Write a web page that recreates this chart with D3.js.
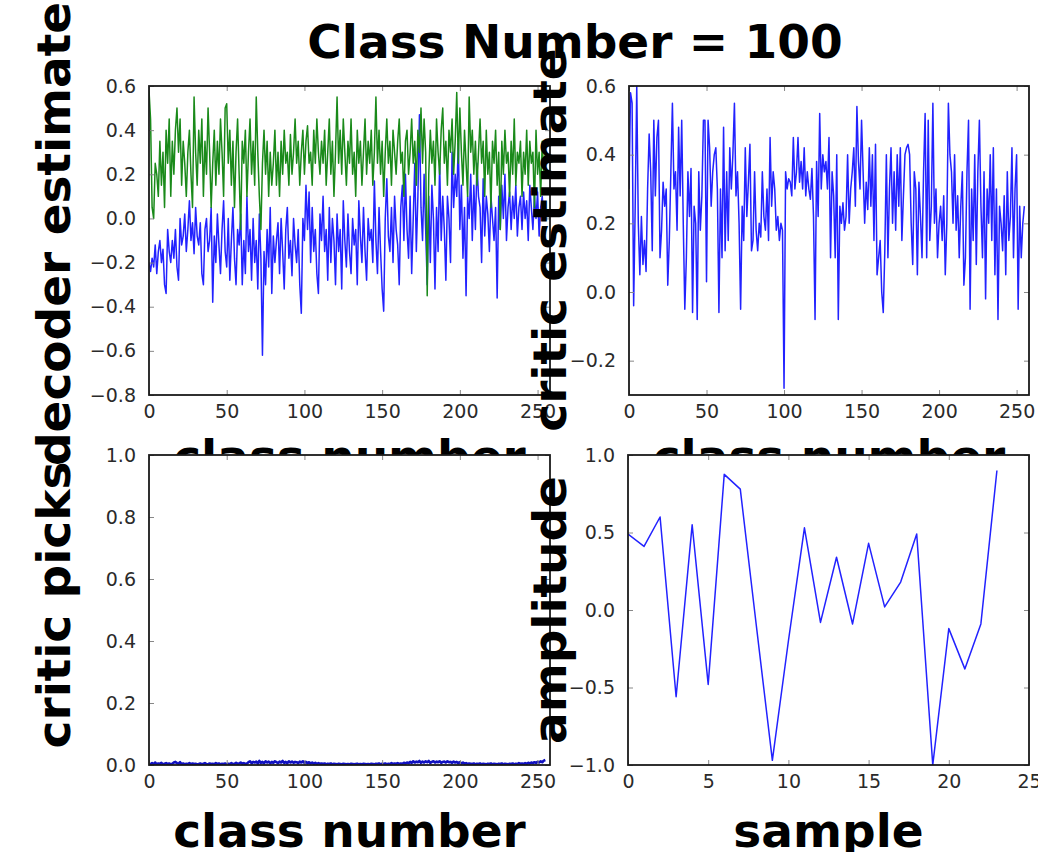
<!DOCTYPE html>
<html>
<head>
<meta charset="utf-8">
<script src="https://cdn.jsdelivr.net/npm/d3@7"></script>
<style>
  html, body { margin: 0; padding: 0; background: #fff; }
  svg { display: block; }
</style>
</head>
<body>
<div id="chart"></div>
<script>
// ---- data ----
const titleText = "Class Number = 100";

// decoder estimate, first output (blue), one value per class 0..255
const decoderBlue = [
  -0.20,-0.24,-0.18,-0.22,-0.12,-0.25,-0.15,-0.10,-0.20,-0.14,-0.30,-0.34,-0.05,-0.15,-0.20,-0.10,
  -0.18,-0.05,-0.22,-0.28, 0.00,-0.12,-0.08, 0.02,-0.15,-0.05, 0.08,-0.10,-0.02,-0.16, 0.05,-0.08,
  -0.12,-0.02,-0.25,-0.30,-0.05, 0.00,-0.15,-0.10, 0.05,-0.38,-0.08,-0.20, 0.02,-0.12,-0.25,-0.05,
   0.08,-0.15,-0.22, 0.00,-0.28,-0.10, 0.05,-0.18,-0.30,-0.05,-0.12, 0.02,-0.30,-0.10,-0.25, 0.10,
  -0.15,-0.05,-0.28, 0.00,-0.20,-0.10,-0.32, 0.02,-0.18,-0.62,-0.15,-0.30,-0.05,-0.22, 0.05,-0.34,
  -0.08,-0.20,-0.10,-0.02,-0.25, 0.00,-0.15,-0.32,-0.05, 0.05,-0.18,-0.10,-0.26, 0.00,-0.12,-0.20,
  -0.05,-0.30,-0.43, 0.00,-0.10, 0.15,-0.05, 0.12,-0.20, 0.05,-0.15,-0.05,-0.25,-0.34, 0.02,-0.10,
   0.10,-0.15,-0.05,-0.28, 0.05,-0.20, 0.00,-0.10,-0.30, 0.02,-0.15,-0.05,-0.32, 0.08,-0.10,-0.22,
   0.02,-0.15,-0.25, 0.00,-0.12,-0.05,-0.30, 0.08,-0.08,-0.20, 0.05,-0.15,-0.28, 0.00,-0.10,-0.05,
  -0.20, 0.17,-0.10,-0.25, 0.05,-0.15,-0.32,-0.42, 0.00, 0.18,-0.08,-0.15, 0.05,-0.20, 0.10,-0.05,
  -0.12,-0.30, 0.05, 0.15,-0.10, 0.20,-0.05,-0.18, 0.10,-0.25, 0.00, 0.25,-0.15, 0.10, 0.47, 0.05,
  -0.10, 0.20,-0.05,-0.30, 0.10,-0.20, 0.15, 0.00,-0.32, 0.05,-0.15, 0.25,-0.10, 0.10,-0.05,-0.28,
   0.10, 0.00,-0.20, 0.30, 0.05, 0.20, 0.10, 0.34,-0.05, 0.15,-0.18, 0.05,-0.35, 0.10, 0.00, 0.20,
  -0.10, 0.15,-0.05, 0.25, 0.10, 0.05,-0.20, 0.18,-0.08, 0.10, 0.02,-0.15, 0.10, 0.00,-0.10, 0.05,
  -0.36, 0.10,-0.05, 0.15, 0.00, 0.20,-0.10, 0.05, 0.12,-0.05, 0.10, 0.00, 0.15,-0.08, 0.05, 0.10,
  -0.05, 0.12, 0.00, 0.08,-0.10, 0.15, 0.05,-0.05, 0.10, 0.00, 0.12,-0.08, 0.05, 0.10, 0.00, 0.05
];

// decoder estimate, second output (green)
const decoderGreen = [
   0.58, 0.45, 0.05, 0.00, 0.25, 0.20, 0.10, 0.35, 0.15, 0.30, 0.05, 0.40, 0.25, 0.45, 0.10, 0.35,
   0.20, 0.40, 0.50, 0.30, 0.45, 0.15, 0.35, 0.25, 0.10, 0.30, 0.40, 0.20, 0.05, 0.55, 0.30, 0.15,
   0.40, 0.25, 0.45, 0.10, 0.35, 0.20, 0.50, 0.30, 0.05, 0.25, 0.40, 0.15, 0.35, 0.20, 0.45, 0.30,
   0.10, 0.50, 0.52, 0.25, 0.40, 0.15, 0.35, 0.05, 0.30, 0.45, 0.20,-0.05, 0.35, 0.25, 0.40, 0.10,
   0.30, 0.45, 0.20, 0.35, 0.15, 0.55, 0.30, 0.10,-0.05, 0.25, 0.40, 0.20, 0.35, 0.10, 0.30, 0.15,
   0.25, 0.40, 0.15, 0.30, 0.10, 0.35, 0.20, 0.40, 0.25, 0.30, 0.15, 0.38, 0.20, 0.30, 0.45, 0.25,
   0.35, 0.15, 0.30, 0.40, 0.20, 0.35, 0.42, 0.25, 0.30, 0.15, 0.40, 0.25, 0.45, 0.30, 0.20, 0.35,
   0.25, 0.40, 0.15, 0.30, 0.45, 0.20, 0.35, 0.10, 0.30, 0.55, 0.25, 0.40, 0.20, 0.45, 0.30, 0.15,
   0.35, 0.25, 0.45, 0.20, 0.30, 0.10, 0.40, 0.25, 0.35, 0.15, 0.30, 0.45, 0.20, 0.35, 0.25, 0.40,
   0.15, 0.30, 0.55, 0.25, 0.40, 0.20, 0.35, 0.10, 0.30, 0.45, 0.25, 0.35, 0.15, 0.40, 0.30, 0.20,
   0.35, 0.45, 0.25, 0.30, 0.10, 0.35, 0.40, 0.20, 0.30, 0.45, 0.25, 0.35, 0.15, 0.40, 0.30, 0.50,
   0.25, 0.45, 0.30,-0.35, 0.20, 0.40, 0.25, 0.35, 0.15, 0.45, 0.30, 0.20, 0.40, 0.50, 0.25, 0.35,
   0.15, 0.40, 0.30, 0.45, 0.20, 0.35, 0.57, 0.25, 0.50, 0.30, 0.15, 0.40, 0.25, 0.10, 0.55, 0.30,
   0.40, 0.20, 0.35, 0.15, 0.30, 0.45, 0.25, 0.35, 0.10, 0.40, 0.20, 0.30, 0.05, 0.35, 0.25, 0.40,
   0.15, 0.30,-0.05, 0.35, 0.20, 0.40, 0.25, 0.30, 0.10, 0.35, 0.20, 0.45, 0.15, 0.30, 0.25, 0.35,
   0.10, 0.30, 0.20, 0.40, 0.15, 0.35, 0.25, 0.30, 0.05, 0.40, 0.20, 0.30, 0.10, 0.35, 0.20, 0.30
];

// critic estimate per class
const criticEstimate = [
   0.30, 0.58, 0.55,-0.04, 0.25, 0.60, 0.20, 0.05, 0.22, 0.08, 0.15, 0.06, 0.30, 0.46, 0.35, 0.12,
   0.50, 0.28, 0.45, 0.50, 0.10, 0.18, 0.32, 0.25, 0.30, 0.02, 0.15, 0.35, 0.55, 0.30, 0.35, 0.18,
   0.48, 0.28, 0.50, 0.20,-0.05, 0.10, 0.35, 0.22, 0.36,-0.06, 0.25, 0.20,-0.08, 0.35, 0.18, 0.28,
   0.50, 0.50, 0.03, 0.50, 0.42, 0.25, 0.35, 0.40, 0.42, 0.30,-0.06, 0.30, 0.10, 0.48, 0.12, 0.35,
   0.15, 0.42, 0.30, 0.40, 0.55, 0.28, 0.35, 0.20,-0.05, 0.25, 0.15, 0.42, 0.22, 0.32, 0.43, 0.12,
   0.15, 0.35, 0.18, 0.12, 0.20, 0.16, 0.35, 0.22, 0.18, 0.30, 0.15, 0.45, 0.25, 0.35, 0.30, 0.18,
   0.22, 0.15, 0.20, 0.18,-0.28, 0.35, 0.30, 0.33, 0.32, 0.28, 0.45, 0.30, 0.35, 0.45, 0.32, 0.38,
   0.30, 0.42, 0.28, 0.35, 0.30, 0.27, 0.36, 0.22,-0.08, 0.38, 0.22, 0.52, 0.30, 0.40, 0.35, 0.38,
   0.30, 0.45, 0.10, 0.35, 0.28, 0.10, 0.40,-0.08, 0.25, 0.20, 0.26, 0.18, 0.22, 0.40, 0.20, 0.30,
   0.35, 0.42, 0.25, 0.54, 0.38, 0.30, 0.50, 0.35, 0.20, 0.32, 0.24, 0.42, 0.25, 0.40, 0.15, 0.43,
   0.05, 0.10, 0.15, 0.00,-0.06, 0.12, 0.40, 0.10, 0.30, 0.42, 0.20, 0.35, 0.18, 0.40, 0.25, 0.42,
   0.15, 0.28, 0.40, 0.42, 0.43, 0.40, 0.20, 0.08, 0.35, 0.30, 0.05, 0.32, 0.22, 0.10, 0.35, 0.52,
   0.10, 0.50, 0.15, 0.25, 0.55, 0.20, 0.30, 0.10, 0.20, 0.25, 0.15, 0.28, 0.05, 0.20, 0.55, 0.40,
   0.35, 0.20, 0.40, 0.18, 0.28, 0.10, 0.25, 0.35, 0.02, 0.10, 0.35, 0.50,-0.05, 0.30, 0.15, 0.40,
   0.08, 0.35, 0.50, 0.25, 0.10, 0.35,-0.02, 0.30, 0.20, 0.40, 0.15, 0.42, 0.05, 0.30,-0.08, 0.25,
   0.20, 0.12, 0.28, 0.05, 0.35, 0.15, 0.22, 0.42, 0.10, 0.30, 0.40,-0.05, 0.25, 0.10, 0.20, 0.25
];

// fraction of picks by the critic per class
const criticPicks = [
  0.004,0.002,0.006,0.003,0.008,0.002,0.005,0.003,0.007,0.002,0.004,0.006,0.003,0.005,0.002,0.004,
  0.008,0.010,0.006,0.004,0.009,0.003,0.005,0.002,0.004,0.003,0.006,0.002,0.005,0.003,0.004,0.002,
  0.003,0.005,0.002,0.004,0.006,0.003,0.002,0.005,0.003,0.004,0.002,0.006,0.003,0.005,0.002,0.004,
  0.003,0.005,0.002,0.004,0.003,0.006,0.002,0.004,0.007,0.003,0.005,0.008,0.004,0.006,0.003,0.005,
  0.009,0.012,0.006,0.010,0.008,0.011,0.005,0.013,0.007,0.010,0.006,0.012,0.008,0.011,0.006,0.010,
  0.007,0.012,0.009,0.006,0.011,0.008,0.013,0.007,0.010,0.006,0.012,0.008,0.011,0.007,0.010,0.009,
  0.006,0.011,0.008,0.012,0.007,0.010,0.006,0.009,0.005,0.008,0.004,0.007,0.003,0.006,0.004,0.005,
  0.003,0.005,0.002,0.004,0.003,0.005,0.002,0.004,0.003,0.002,0.004,0.003,0.002,0.004,0.003,0.002,
  0.003,0.002,0.004,0.003,0.002,0.003,0.004,0.002,0.003,0.002,0.004,0.003,0.002,0.003,0.002,0.004,
  0.003,0.002,0.004,0.003,0.005,0.002,0.004,0.003,0.005,0.002,0.004,0.003,0.006,0.003,0.005,0.004,
  0.006,0.003,0.005,0.004,0.007,0.005,0.008,0.006,0.010,0.007,0.012,0.008,0.011,0.009,0.013,0.007,
  0.011,0.008,0.012,0.009,0.013,0.007,0.010,0.012,0.008,0.011,0.009,0.012,0.007,0.010,0.011,0.008,
  0.012,0.009,0.010,0.007,0.011,0.008,0.010,0.006,0.009,0.005,0.008,0.004,0.006,0.003,0.005,0.004,
  0.003,0.005,0.002,0.004,0.003,0.005,0.002,0.004,0.003,0.002,0.004,0.003,0.005,0.002,0.004,0.003,
  0.002,0.004,0.003,0.005,0.002,0.004,0.003,0.002,0.004,0.003,0.005,0.002,0.004,0.003,0.006,0.004,
  0.005,0.003,0.006,0.004,0.007,0.005,0.008,0.006,0.009,0.007,0.010,0.008,0.012,0.009,0.014,0.016
];

// generated waveform, one value per sample 0..23
const amplitude = [
  0.49, 0.41, 0.60,-0.56, 0.55,-0.48, 0.875, 0.78,-0.10,-0.97,-0.20, 0.53,
 -0.08, 0.34,-0.09, 0.43, 0.02, 0.18, 0.49,-1.00,-0.12,-0.38,-0.09, 0.90
];

// tick values
const classTicks = [0, 50, 100, 150, 200, 250];
const sampleTicks = [0, 5, 10, 15, 20, 25];
const decoderTicks = [-0.8, -0.6, -0.4, -0.2, 0.0, 0.2, 0.4, 0.6];
const criticTicks = [-0.2, 0.0, 0.2, 0.4, 0.6];
const picksTicks = [0.0, 0.2, 0.4, 0.6, 0.8, 1.0];
const amplitudeTicks = [-1.0, -0.5, 0.0, 0.5, 1.0];

// ---- drawing ----
const W = 1038, H = 852;
const svg = d3.select("#chart").append("svg")
  .attr("width", W).attr("height", H)
  .attr("viewBox", `0 0 ${W} ${H}`);

svg.append("rect").attr("width", W).attr("height", H).attr("fill", "#fff");

const FONT = "DejaVu Sans, sans-serif";
const fmtTick = d3.format(".1f");
const minus = s => s.replace("-", "\u2212");

const lineColors = { blue: "#2222ff", green: "#1a8a1a" };
const classDomain = [0, 258];

function drawPanel(p) {
  const g = svg.append("g");
  const x = d3.scaleLinear().domain(p.xDomain).range([p.left, p.left + p.width]);
  const y = d3.scaleLinear().domain(p.yDomain).range([p.top + p.height, p.top]);

  // axes background (covers anything drawn earlier underneath)
  g.append("rect")
    .attr("x", p.left).attr("y", p.top)
    .attr("width", p.width).attr("height", p.height)
    .attr("fill", "#fff");

  const clipId = "clip-" + p.id;
  g.append("clipPath").attr("id", clipId)
    .append("rect")
    .attr("x", p.left).attr("y", p.top)
    .attr("width", p.width).attr("height", p.height);

  const plot = g.append("g").attr("clip-path", `url(#${clipId})`);
  p.series.forEach(s => {
    const line = d3.line()
      .x((d, i) => x(i))
      .y(d => y(d));
    plot.append("path")
      .datum(s.values)
      .attr("d", line)
      .attr("fill", "none")
      .attr("stroke", s.color)
      .attr("stroke-width", s.width)
      .attr("stroke-linejoin", "round");
  });

  // inward ticks on all four sides
  const tickLen = 5;
  const tickStroke = "#888";
  const xb = d3.axisBottom(x).tickValues(p.xTicks).tickSize(-tickLen).tickPadding(10)
    .tickFormat(p.xFormat);
  const xt = d3.axisTop(x).tickValues(p.xTicks).tickSize(-tickLen).tickFormat("");
  const yl = d3.axisLeft(y).tickValues(p.yTicks).tickSize(-tickLen).tickPadding(13)
    .tickFormat(p.yFormat);
  const yr = d3.axisRight(y).tickValues(p.yTicks).tickSize(-tickLen).tickFormat("");

  const axes = [
    g.append("g").attr("transform", `translate(0,${p.top + p.height})`).call(xb),
    g.append("g").attr("transform", `translate(0,${p.top})`).call(xt),
    g.append("g").attr("transform", `translate(${p.left},0)`).call(yl),
    g.append("g").attr("transform", `translate(${p.left + p.width},0)`).call(yr)
  ];
  axes.forEach(a => {
    a.select(".domain").remove();
    a.selectAll(".tick line").attr("stroke", tickStroke).attr("stroke-width", 1);
    a.selectAll(".tick text")
      .attr("font-family", FONT)
      .attr("font-size", 19)
      .attr("fill", "#2a2a2a");
  });

  // frame
  g.append("rect")
    .attr("x", p.left).attr("y", p.top)
    .attr("width", p.width).attr("height", p.height)
    .attr("fill", "none").attr("stroke", "#1a1a1a").attr("stroke-width", 1.8);

  // axis labels
  g.append("text")
    .attr("x", p.left + p.width / 2)
    .attr("y", p.top + p.height + p.xLabelOffset)
    .attr("text-anchor", "middle")
    .attr("font-family", FONT).attr("font-weight", "bold")
    .attr("font-size", 47).attr("fill", "#000")
    .text(p.xLabel);

  g.append("text")
    .attr("transform", `translate(${p.yLabelX},${p.yLabelY}) rotate(-90)`)
    .attr("text-anchor", "middle")
    .attr("font-family", FONT).attr("font-weight", "bold")
    .attr("font-size", 47).attr("fill", "#000")
    .text(p.yLabel);
}

const fmtInt = d3.format("d");
const fmtY = d => minus(fmtTick(d));

drawPanel({
  id: "decoder", left: 149, top: 86, width: 401, height: 309,
  xDomain: classDomain, yDomain: [-0.8, 0.6],
  xTicks: classTicks, yTicks: decoderTicks, xFormat: fmtInt, yFormat: fmtY,
  series: [
    { values: decoderBlue, color: lineColors.blue, width: 1.5 },
    { values: decoderGreen, color: lineColors.green, width: 1.5 }
  ],
  xLabel: "class number", xLabelOffset: 78,
  yLabel: "decoder estimate", yLabelX: 70, yLabelY: 234
});

drawPanel({
  id: "critic", left: 629, top: 86, width: 400, height: 309,
  xDomain: classDomain, yDomain: [-0.3, 0.6],
  xTicks: classTicks, yTicks: criticTicks, xFormat: fmtInt, yFormat: fmtY,
  series: [ { values: criticEstimate, color: lineColors.blue, width: 1.5 } ],
  xLabel: "class number", xLabelOffset: 78,
  yLabel: "critic estimate", yLabelX: 566, yLabelY: 240
});

drawPanel({
  id: "picks", left: 149, top: 455, width: 401, height: 310,
  xDomain: classDomain, yDomain: [0, 1],
  xTicks: classTicks, yTicks: picksTicks, xFormat: fmtInt, yFormat: fmtY,
  series: [ { values: criticPicks, color: "#1010c0", width: 2.6 } ],
  xLabel: "class number", xLabelOffset: 82,
  yLabel: "critic picks", yLabelX: 70, yLabelY: 605
});

drawPanel({
  id: "amplitude", left: 628, top: 455, width: 401, height: 310,
  xDomain: [0, 25], yDomain: [-1, 1],
  xTicks: sampleTicks, yTicks: amplitudeTicks, xFormat: fmtInt, yFormat: fmtY,
  series: [ { values: amplitude, color: lineColors.blue, width: 1.5 } ],
  xLabel: "sample", xLabelOffset: 82,
  yLabel: "amplitude", yLabelX: 566, yLabelY: 610
});

// figure title
svg.append("text")
  .attr("x", 575).attr("y", 58)
  .attr("text-anchor", "middle")
  .attr("font-family", FONT).attr("font-weight", "bold")
  .attr("font-size", 47).attr("fill", "#000")
  .text(titleText);
</script>
</body>
</html>
